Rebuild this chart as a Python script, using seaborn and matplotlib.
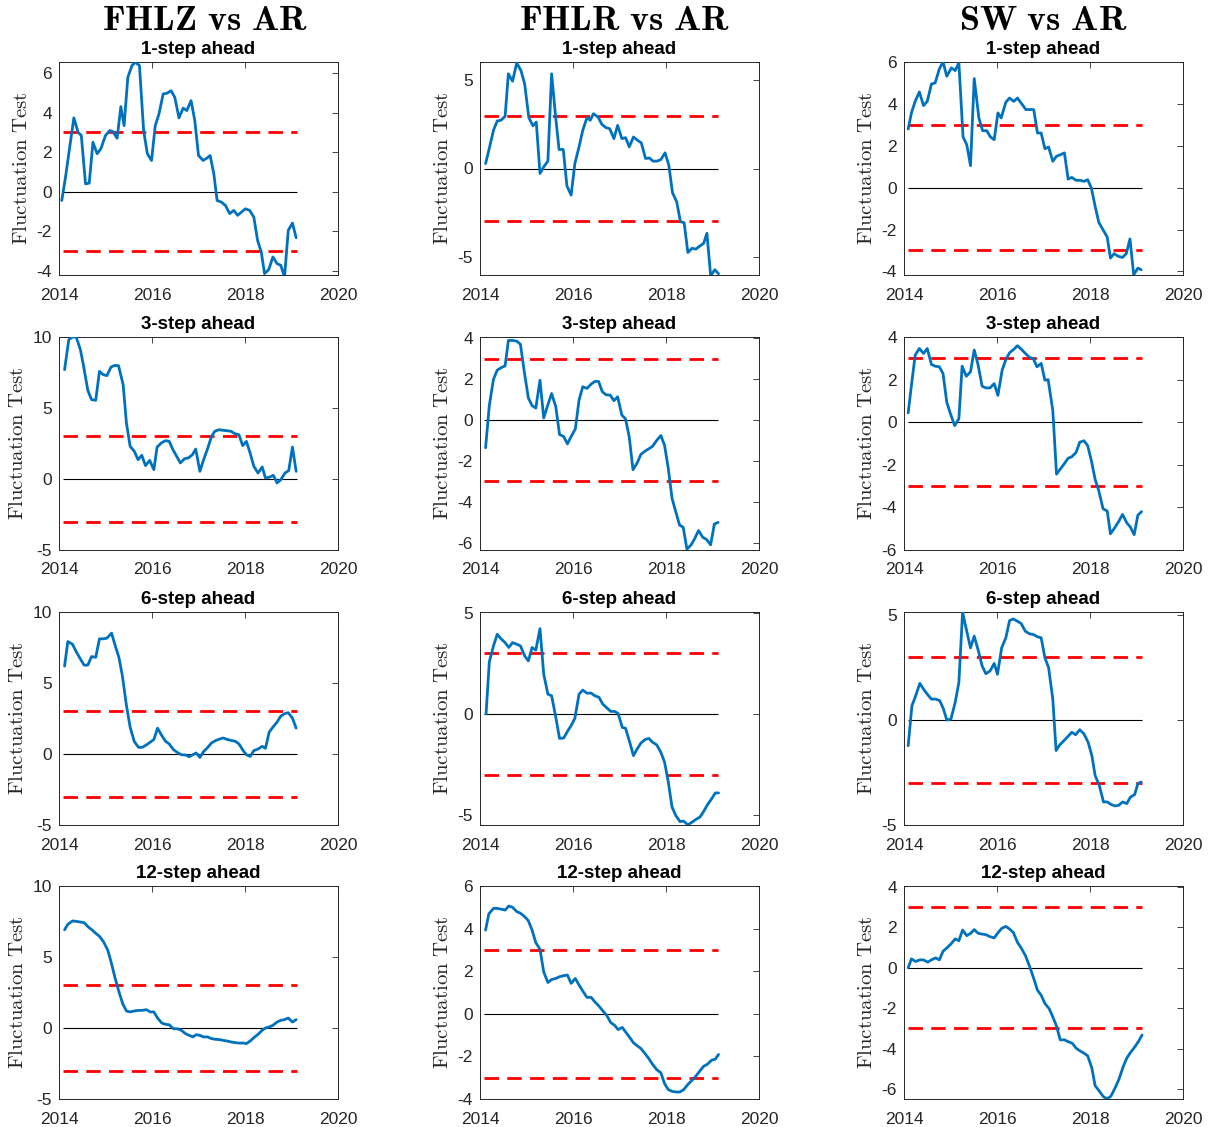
import matplotlib
matplotlib.use("Agg")
import matplotlib.pyplot as plt
import seaborn as sns
import pandas as pd

# ---------------- data ----------------
models = ["FHLZ", "FHLR", "SW"]
horizons = [1, 3, 6, 12]
crit_value = 3.0
x_ticks = [2014, 2016, 2018, 2020]

fhlz_h1_x = [2014.06, 2014.14, 2014.23, 2014.32, 2014.41, 2014.48, 2014.57, 2014.65, 2014.73, 2014.82, 2014.90, 2015.00, 2015.09, 2015.16, 2015.25, 2015.33, 2015.40, 2015.48, 2015.57, 2015.64, 2015.73, 2015.82, 2015.90, 2015.99, 2016.07, 2016.15, 2016.24, 2016.32, 2016.41, 2016.49, 2016.58, 2016.67, 2016.75, 2016.84, 2016.92, 2017.00, 2017.10, 2017.18, 2017.25, 2017.33, 2017.40, 2017.49, 2017.58, 2017.67, 2017.76, 2017.84, 2017.92, 2018.01, 2018.10, 2018.19, 2018.27, 2018.35, 2018.42, 2018.51, 2018.60, 2018.69, 2018.77, 2018.85, 2018.93, 2019.02, 2019.10]
fhlz_h1_y = [-0.44, 0.74, 2.25, 3.73, 3.0, 2.84, 0.4, 0.44, 2.5, 1.92, 2.17, 2.84, 3.09, 3.04, 2.7, 4.3, 3.34, 5.78, 6.37, 6.54, 6.37, 3.09, 1.92, 1.58, 3.34, 3.93, 4.94, 4.97, 5.1, 4.77, 3.73, 4.22, 4.1, 4.6, 3.6, 1.83, 1.58, 1.7, 1.83, 0.9, -0.44, -0.52, -0.69, -1.1, -0.94, -1.19, -1.03, -0.86, -0.94, -1.28, -2.45, -3.04, -4.13, -3.93, -3.29, -3.63, -3.71, -4.3, -1.95, -1.58, -2.32]

fhlr_h1_x = [2014.12, 2014.19, 2014.29, 2014.37, 2014.45, 2014.54, 2014.61, 2014.70, 2014.79, 2014.88, 2014.96, 2015.05, 2015.14, 2015.21, 2015.29, 2015.37, 2015.46, 2015.54, 2015.62, 2015.70, 2015.79, 2015.87, 2015.96, 2016.04, 2016.13, 2016.21, 2016.30, 2016.37, 2016.44, 2016.54, 2016.62, 2016.71, 2016.79, 2016.88, 2016.96, 2017.05, 2017.13, 2017.21, 2017.30, 2017.39, 2017.47, 2017.56, 2017.64, 2017.72, 2017.81, 2017.89, 2017.98, 2018.06, 2018.14, 2018.23, 2018.31, 2018.39, 2018.47, 2018.56, 2018.64, 2018.73, 2018.81, 2018.88, 2018.96, 2019.05, 2019.13]
fhlr_h1_y = [0.28, 1.04, 2.17, 2.7, 2.74, 2.96, 5.38, 4.96, 6.0, 5.57, 4.81, 2.89, 2.42, 2.64, -0.28, 0.09, 0.42, 5.38, 3.11, 1.08, 1.08, -1.0, -1.51, 0.28, 1.23, 2.17, 2.89, 2.74, 3.11, 2.92, 2.51, 2.32, 2.26, 1.7, 2.45, 1.7, 1.75, 1.23, 1.79, 1.6, 1.45, 0.57, 0.6, 0.42, 0.42, 0.51, 0.89, 0.19, -1.38, -1.89, -3.02, -3.08, -4.77, -4.53, -4.58, -4.4, -4.25, -3.68, -6.09, -5.75, -5.98]

sw_h1_x = [2014.09, 2014.16, 2014.24, 2014.33, 2014.42, 2014.50, 2014.59, 2014.67, 2014.76, 2014.84, 2014.92, 2015.02, 2015.10, 2015.18, 2015.27, 2015.35, 2015.43, 2015.51, 2015.61, 2015.69, 2015.78, 2015.86, 2015.94, 2016.02, 2016.09, 2016.19, 2016.27, 2016.36, 2016.44, 2016.53, 2016.62, 2016.70, 2016.79, 2016.87, 2016.95, 2017.03, 2017.11, 2017.20, 2017.28, 2017.37, 2017.45, 2017.53, 2017.61, 2017.70, 2017.79, 2017.87, 2017.95, 2018.03, 2018.11, 2018.19, 2018.28, 2018.37, 2018.44, 2018.52, 2018.61, 2018.70, 2018.78, 2018.86, 2018.94, 2019.03, 2019.10]
sw_h1_y = [2.8, 3.57, 4.12, 4.57, 3.92, 4.12, 4.95, 5.0, 5.67, 6.0, 5.32, 5.72, 5.59, 5.96, 2.42, 2.05, 1.05, 5.21, 3.33, 2.72, 2.72, 2.42, 2.29, 3.57, 3.33, 4.08, 4.28, 4.12, 4.28, 4.01, 3.73, 3.73, 3.73, 2.61, 2.61, 1.86, 1.94, 1.26, 1.5, 1.58, 1.66, 0.41, 0.49, 0.35, 0.35, 0.3, 0.38, -0.02, -0.89, -1.66, -2.01, -2.36, -3.36, -3.15, -3.28, -3.33, -3.15, -2.45, -4.16, -3.84, -3.92]

fhlz_h3_x = [2014.12, 2014.21, 2014.29, 2014.37, 2014.46, 2014.53, 2014.62, 2014.70, 2014.79, 2014.87, 2014.95, 2015.03, 2015.12, 2015.20, 2015.28, 2015.38, 2015.45, 2015.53, 2015.62, 2015.70, 2015.78, 2015.86, 2015.95, 2016.04, 2016.11, 2016.20, 2016.29, 2016.37, 2016.45, 2016.53, 2016.61, 2016.70, 2016.78, 2016.87, 2016.94, 2017.03, 2017.11, 2017.20, 2017.28, 2017.35, 2017.44, 2017.53, 2017.61, 2017.70, 2017.78, 2017.87, 2017.95, 2018.03, 2018.11, 2018.19, 2018.28, 2018.37, 2018.44, 2018.52, 2018.61, 2018.69, 2018.77, 2018.86, 2018.94, 2019.02, 2019.10]
fhlz_h3_y = [7.7, 9.81, 10.0, 10.0, 9.11, 7.93, 6.24, 5.59, 5.54, 7.58, 7.35, 7.28, 7.89, 8.0, 7.98, 6.64, 3.94, 2.3, 1.95, 1.36, 1.67, 0.94, 1.31, 0.66, 2.25, 2.54, 2.7, 2.65, 2.07, 1.6, 1.13, 1.43, 1.48, 1.71, 2.11, 0.54, 1.36, 2.18, 3.0, 3.36, 3.47, 3.43, 3.4, 3.36, 3.19, 3.12, 2.35, 2.65, 1.83, 0.89, 0.42, 0.85, 0.07, 0.12, 0.26, -0.28, -0.05, 0.42, 0.59, 2.25, 0.54]

fhlr_h3_x = [2014.12, 2014.20, 2014.29, 2014.37, 2014.46, 2014.54, 2014.61, 2014.70, 2014.79, 2014.87, 2014.95, 2015.04, 2015.12, 2015.20, 2015.29, 2015.37, 2015.46, 2015.54, 2015.63, 2015.71, 2015.80, 2015.88, 2015.96, 2016.05, 2016.13, 2016.21, 2016.30, 2016.39, 2016.47, 2016.55, 2016.63, 2016.71, 2016.80, 2016.88, 2016.96, 2017.05, 2017.13, 2017.21, 2017.29, 2017.38, 2017.46, 2017.55, 2017.63, 2017.71, 2017.80, 2017.89, 2017.97, 2018.05, 2018.13, 2018.21, 2018.29, 2018.37, 2018.45, 2018.54, 2018.62, 2018.70, 2018.79, 2018.87, 2018.96, 2019.04, 2019.12]
fhlr_h3_y = [-1.36, 0.7, 1.99, 2.43, 2.56, 2.64, 3.88, 3.88, 3.85, 3.69, 2.39, 1.07, 0.7, 0.58, 1.94, 0.1, 0.74, 1.29, 0.65, -0.71, -0.81, -1.17, -0.81, -0.44, 0.97, 1.62, 1.54, 1.75, 1.88, 1.88, 1.38, 1.23, 1.21, 0.94, 1.13, 0.24, 0.05, -0.84, -2.43, -2.1, -1.68, -1.52, -1.41, -1.29, -1.0, -0.76, -1.25, -2.38, -3.83, -4.48, -5.13, -5.24, -6.31, -6.1, -5.78, -5.4, -5.73, -5.83, -6.1, -5.08, -5.0]

sw_h3_x = [2014.09, 2014.16, 2014.24, 2014.33, 2014.42, 2014.50, 2014.59, 2014.67, 2014.76, 2014.84, 2014.92, 2015.00, 2015.09, 2015.18, 2015.25, 2015.34, 2015.43, 2015.51, 2015.59, 2015.68, 2015.76, 2015.85, 2015.94, 2016.02, 2016.11, 2016.19, 2016.27, 2016.36, 2016.44, 2016.52, 2016.61, 2016.70, 2016.78, 2016.86, 2016.95, 2017.03, 2017.10, 2017.20, 2017.28, 2017.36, 2017.44, 2017.53, 2017.61, 2017.70, 2017.78, 2017.87, 2017.95, 2018.03, 2018.11, 2018.19, 2018.28, 2018.37, 2018.44, 2018.53, 2018.62, 2018.70, 2018.79, 2018.87, 2018.95, 2019.03, 2019.11]
sw_h3_y = [0.44, 1.73, 3.15, 3.46, 3.23, 3.46, 2.71, 2.63, 2.6, 2.28, 0.94, 0.39, -0.16, 0.16, 2.63, 2.16, 2.36, 3.39, 2.72, 1.69, 1.61, 1.61, 1.81, 1.26, 2.44, 2.94, 3.26, 3.42, 3.59, 3.43, 3.23, 3.04, 2.99, 2.6, 2.76, 1.97, 2.0, 0.55, -2.44, -2.2, -1.97, -1.69, -1.62, -1.42, -0.94, -0.87, -1.1, -1.81, -2.68, -3.23, -4.06, -4.17, -5.24, -4.96, -4.65, -4.33, -4.72, -4.93, -5.28, -4.36, -4.2]

fhlz_h6_x = [2014.12, 2014.19, 2014.29, 2014.37, 2014.46, 2014.54, 2014.62, 2014.70, 2014.79, 2014.87, 2014.95, 2015.03, 2015.13, 2015.20, 2015.29, 2015.36, 2015.45, 2015.53, 2015.62, 2015.71, 2015.79, 2015.88, 2015.96, 2016.04, 2016.12, 2016.21, 2016.29, 2016.37, 2016.46, 2016.54, 2016.63, 2016.72, 2016.80, 2016.88, 2016.95, 2017.03, 2017.11, 2017.20, 2017.28, 2017.37, 2017.46, 2017.53, 2017.62, 2017.71, 2017.79, 2017.87, 2017.96, 2018.03, 2018.11, 2018.19, 2018.28, 2018.37, 2018.44, 2018.52, 2018.60, 2018.69, 2018.77, 2018.85, 2018.93, 2019.02, 2019.10]
fhlz_h6_y = [6.19, 7.92, 7.73, 7.21, 6.69, 6.26, 6.26, 6.86, 6.81, 8.11, 8.11, 8.16, 8.51, 7.73, 6.78, 5.56, 3.43, 1.89, 0.87, 0.47, 0.47, 0.64, 0.83, 1.02, 1.82, 1.3, 0.9, 0.71, 0.31, 0.12, -0.05, -0.07, -0.19, -0.05, 0.07, -0.24, 0.17, 0.47, 0.78, 0.95, 1.06, 1.13, 1.02, 0.95, 0.9, 0.71, 0.24, -0.05, -0.17, 0.24, 0.35, 0.54, 0.4, 1.54, 1.89, 2.25, 2.67, 2.84, 2.91, 2.53, 1.82]

fhlr_h6_x = [2014.13, 2014.20, 2014.29, 2014.37, 2014.46, 2014.54, 2014.62, 2014.70, 2014.79, 2014.87, 2014.96, 2015.04, 2015.12, 2015.20, 2015.29, 2015.37, 2015.46, 2015.54, 2015.63, 2015.71, 2015.80, 2015.89, 2015.96, 2016.04, 2016.13, 2016.21, 2016.30, 2016.39, 2016.47, 2016.56, 2016.64, 2016.73, 2016.81, 2016.89, 2016.97, 2017.06, 2017.13, 2017.21, 2017.30, 2017.38, 2017.46, 2017.55, 2017.63, 2017.71, 2017.80, 2017.89, 2017.97, 2018.05, 2018.13, 2018.21, 2018.30, 2018.38, 2018.47, 2018.56, 2018.64, 2018.73, 2018.81, 2018.89, 2018.98, 2019.06, 2019.13]
fhlr_h6_y = [0.0, 2.57, 3.36, 3.93, 3.69, 3.52, 3.28, 3.52, 3.44, 3.36, 2.87, 2.62, 3.28, 3.15, 4.21, 1.97, 0.98, 0.9, -0.16, -1.2, -1.18, -0.82, -0.57, -0.21, 0.98, 1.18, 1.03, 1.03, 0.9, 0.82, 0.49, 0.3, 0.13, 0.13, 0.03, -0.66, -0.7, -1.31, -2.05, -1.72, -1.43, -1.26, -1.2, -1.39, -1.52, -1.89, -2.38, -3.36, -4.59, -5.0, -5.3, -5.28, -5.46, -5.33, -5.2, -5.08, -4.8, -4.48, -4.18, -3.89, -3.89]

sw_h6_x = [2014.09, 2014.17, 2014.25, 2014.34, 2014.43, 2014.52, 2014.59, 2014.68, 2014.77, 2014.85, 2014.92, 2015.01, 2015.10, 2015.18, 2015.26, 2015.35, 2015.43, 2015.51, 2015.60, 2015.68, 2015.76, 2015.85, 2015.94, 2016.01, 2016.10, 2016.19, 2016.27, 2016.35, 2016.44, 2016.52, 2016.61, 2016.70, 2016.78, 2016.87, 2016.95, 2017.03, 2017.11, 2017.20, 2017.27, 2017.35, 2017.44, 2017.53, 2017.61, 2017.69, 2017.78, 2017.87, 2017.96, 2018.04, 2018.11, 2018.20, 2018.29, 2018.37, 2018.46, 2018.54, 2018.62, 2018.70, 2018.79, 2018.87, 2018.96, 2019.03, 2019.10]
sw_h6_y = [-1.22, 0.68, 1.15, 1.75, 1.44, 1.18, 1.0, 1.0, 0.92, 0.52, 0.0, 0.05, 0.84, 1.79, 5.13, 4.23, 3.44, 4.0, 3.29, 2.58, 2.21, 2.34, 2.7, 2.18, 3.44, 3.92, 4.74, 4.82, 4.71, 4.6, 4.23, 4.11, 4.08, 3.97, 3.92, 2.97, 2.5, 1.0, -1.45, -1.18, -0.98, -0.77, -0.58, -0.7, -0.46, -0.66, -1.06, -1.69, -2.64, -3.11, -3.9, -3.9, -4.03, -4.09, -4.06, -3.9, -3.98, -3.67, -3.55, -3.03, -2.95]

fhlz_h12_x = [2014.12, 2014.19, 2014.29, 2014.37, 2014.46, 2014.54, 2014.63, 2014.72, 2014.80, 2014.87, 2014.96, 2015.05, 2015.13, 2015.20, 2015.29, 2015.37, 2015.45, 2015.53, 2015.62, 2015.71, 2015.79, 2015.88, 2015.96, 2016.04, 2016.12, 2016.21, 2016.29, 2016.37, 2016.46, 2016.54, 2016.63, 2016.72, 2016.80, 2016.88, 2016.95, 2017.03, 2017.11, 2017.20, 2017.28, 2017.37, 2017.46, 2017.53, 2017.62, 2017.71, 2017.79, 2017.87, 2017.96, 2018.03, 2018.11, 2018.19, 2018.28, 2018.37, 2018.44, 2018.52, 2018.60, 2018.69, 2018.77, 2018.85, 2018.93, 2019.02, 2019.10]
fhlz_h12_y = [6.92, 7.3, 7.54, 7.51, 7.46, 7.42, 7.11, 6.88, 6.64, 6.46, 6.06, 5.47, 4.53, 3.59, 2.54, 1.71, 1.2, 1.13, 1.2, 1.24, 1.24, 1.29, 1.13, 1.13, 0.7, 0.35, 0.26, 0.23, -0.05, -0.05, -0.16, -0.4, -0.52, -0.63, -0.47, -0.52, -0.63, -0.63, -0.75, -0.8, -0.82, -0.87, -0.92, -0.99, -1.03, -1.06, -1.06, -1.1, -0.92, -0.68, -0.45, -0.16, 0.0, 0.07, 0.19, 0.42, 0.54, 0.59, 0.7, 0.42, 0.59]

fhlr_h12_x = [2014.12, 2014.19, 2014.29, 2014.37, 2014.46, 2014.54, 2014.62, 2014.70, 2014.79, 2014.87, 2014.96, 2015.04, 2015.12, 2015.20, 2015.29, 2015.37, 2015.46, 2015.54, 2015.63, 2015.71, 2015.80, 2015.88, 2015.96, 2016.05, 2016.13, 2016.21, 2016.30, 2016.39, 2016.47, 2016.56, 2016.64, 2016.73, 2016.81, 2016.89, 2016.97, 2017.06, 2017.13, 2017.21, 2017.30, 2017.38, 2017.46, 2017.55, 2017.63, 2017.71, 2017.80, 2017.89, 2017.97, 2018.05, 2018.13, 2018.21, 2018.30, 2018.38, 2018.47, 2018.56, 2018.64, 2018.73, 2018.81, 2018.89, 2018.98, 2019.06, 2019.13]
fhlr_h12_y = [3.93, 4.69, 4.95, 4.95, 4.91, 4.87, 5.06, 5.0, 4.8, 4.72, 4.56, 4.37, 3.93, 3.34, 3.03, 1.97, 1.47, 1.61, 1.66, 1.74, 1.79, 1.82, 1.43, 1.66, 1.35, 1.07, 0.77, 0.77, 0.56, 0.36, 0.14, -0.09, -0.41, -0.53, -0.74, -0.64, -0.85, -1.08, -1.36, -1.5, -1.63, -1.87, -2.1, -2.37, -2.62, -2.77, -3.28, -3.56, -3.64, -3.67, -3.67, -3.56, -3.32, -3.12, -2.93, -2.68, -2.46, -2.37, -2.18, -2.13, -1.91]

sw_h12_x = [2014.09, 2014.16, 2014.25, 2014.34, 2014.42, 2014.51, 2014.59, 2014.68, 2014.76, 2014.84, 2014.92, 2015.01, 2015.10, 2015.18, 2015.26, 2015.35, 2015.43, 2015.51, 2015.60, 2015.68, 2015.76, 2015.85, 2015.94, 2016.01, 2016.10, 2016.19, 2016.27, 2016.35, 2016.44, 2016.52, 2016.61, 2016.70, 2016.78, 2016.87, 2016.95, 2017.03, 2017.12, 2017.20, 2017.28, 2017.36, 2017.45, 2017.53, 2017.62, 2017.70, 2017.78, 2017.87, 2017.95, 2018.04, 2018.11, 2018.20, 2018.29, 2018.37, 2018.45, 2018.54, 2018.62, 2018.71, 2018.79, 2018.87, 2018.96, 2019.04, 2019.12]
sw_h12_y = [0.0, 0.44, 0.31, 0.39, 0.39, 0.28, 0.39, 0.49, 0.39, 0.82, 0.98, 1.18, 1.43, 1.34, 1.87, 1.59, 1.7, 1.89, 1.7, 1.67, 1.64, 1.54, 1.48, 1.7, 1.95, 2.05, 1.92, 1.75, 1.26, 0.98, 0.61, 0.07, -0.46, -1.11, -1.36, -1.77, -2.02, -2.43, -2.89, -3.57, -3.57, -3.66, -3.74, -3.98, -4.11, -4.23, -4.36, -4.97, -5.84, -6.11, -6.39, -6.49, -6.36, -5.95, -5.54, -4.92, -4.48, -4.2, -3.93, -3.66, -3.33]

# axis ranges per panel (rows = horizons, cols = models)
y_limits = [
    [(-4.2, 6.55), (-6.05, 6.05), (-4.17, 6.0)],
    [(-5, 10), (-6.35, 4.05), (-6, 4)],
    [(-5, 10), (-5.47, 5.03), (-5, 5.15)],
    [(-5, 10), (-4, 6), (-6.5, 4.05)],
]
y_ticks = [
    [[-4, -2, 0, 2, 4, 6], [-5, 0, 5], [-4, -2, 0, 2, 4, 6]],
    [[-5, 0, 5, 10], [-6, -4, -2, 0, 2, 4], [-6, -4, -2, 0, 2, 4]],
    [[-5, 0, 5, 10], [-5, 0, 5], [-5, 0, 5]],
    [[-5, 0, 5, 10], [-4, -2, 0, 2, 4, 6], [-6, -4, -2, 0, 2, 4]],
]

series = {
    ("FHLZ", 1): (fhlz_h1_x, fhlz_h1_y), ("FHLR", 1): (fhlr_h1_x, fhlr_h1_y), ("SW", 1): (sw_h1_x, sw_h1_y),
    ("FHLZ", 3): (fhlz_h3_x, fhlz_h3_y), ("FHLR", 3): (fhlr_h3_x, fhlr_h3_y), ("SW", 3): (sw_h3_x, sw_h3_y),
    ("FHLZ", 6): (fhlz_h6_x, fhlz_h6_y), ("FHLR", 6): (fhlr_h6_x, fhlr_h6_y), ("SW", 6): (sw_h6_x, sw_h6_y),
    ("FHLZ", 12): (fhlz_h12_x, fhlz_h12_y), ("FHLR", 12): (fhlr_h12_x, fhlr_h12_y), ("SW", 12): (sw_h12_x, sw_h12_y),
}

# ---------------- style ----------------
sns.set_theme(style="white")
plt.rcParams["font.family"] = ["Liberation Sans", "DejaVu Sans"]
plt.rcParams["mathtext.fontset"] = "cm"
plt.rcParams["axes.unicode_minus"] = False

BLUE = "#0072BD"
DARK = "#262626"

W, H = 1212, 1127
fig = plt.figure(figsize=(W / 100, H / 100), dpi=100)

col_left = [59, 480, 904]
col_width = 279
col_title_center = [205, 625, 1043]
row_top = [62, 337, 612, 886]
row_height = 213

for r, h in enumerate(horizons):
    for c, m in enumerate(models):
        left = col_left[c] / W
        bottom = 1 - (row_top[r] + row_height) / H
        ax = fig.add_axes([left, bottom, col_width / W, row_height / H])
        xs, ys = series[(m, h)]
        df = pd.DataFrame({"date": xs, "stat": ys})
        x0, x1 = 2014.08, 2019.11
        ax.hlines(0, x0, x1, colors="black", linewidth=0.8, zorder=1)
        for cv in (crit_value, -crit_value):
            ax.hlines(cv, x0, x1, colors="red", linewidth=2.0,
                      linestyles=(0, (5.2, 3.0)), zorder=2)
        sns.lineplot(data=df, x="date", y="stat", ax=ax, color=BLUE,
                     linewidth=2.0, zorder=3, sort=False, estimator=None)
        ax.set_xlim(2014, 2020)
        ax.set_ylim(*y_limits[r][c])
        ax.set_xticks(x_ticks)
        ax.set_yticks(y_ticks[r][c])
        ax.tick_params(direction="in", top=True, right=True, length=4,
                       width=0.6, colors=DARK, labelsize=12.5)
        ax.tick_params(axis="x", pad=9)
        ax.tick_params(axis="y", pad=5)
        ax.tick_params(axis="both", labelcolor=DARK)
        for sp in ax.spines.values():
            sp.set_color(DARK)
            sp.set_linewidth(0.7)
        ax.set_xlabel("")
        ax.set_ylabel(r"$\mathrm{Fluctuation\ Test}$", fontsize=15,
                      color=DARK, labelpad=4)
        ax.set_title(f"{h}-step ahead", fontsize=13.5, fontweight="bold",
                     color="black", pad=6)
        if r == 0:
            fig.text(col_title_center[c] / W, 1 - 21 / H,
                     r"$\mathbf{%s\ vs\ AR}$" % m, ha="center", va="center",
                     fontsize=26, color="black")

fig.savefig("out.png", dpi=100)
